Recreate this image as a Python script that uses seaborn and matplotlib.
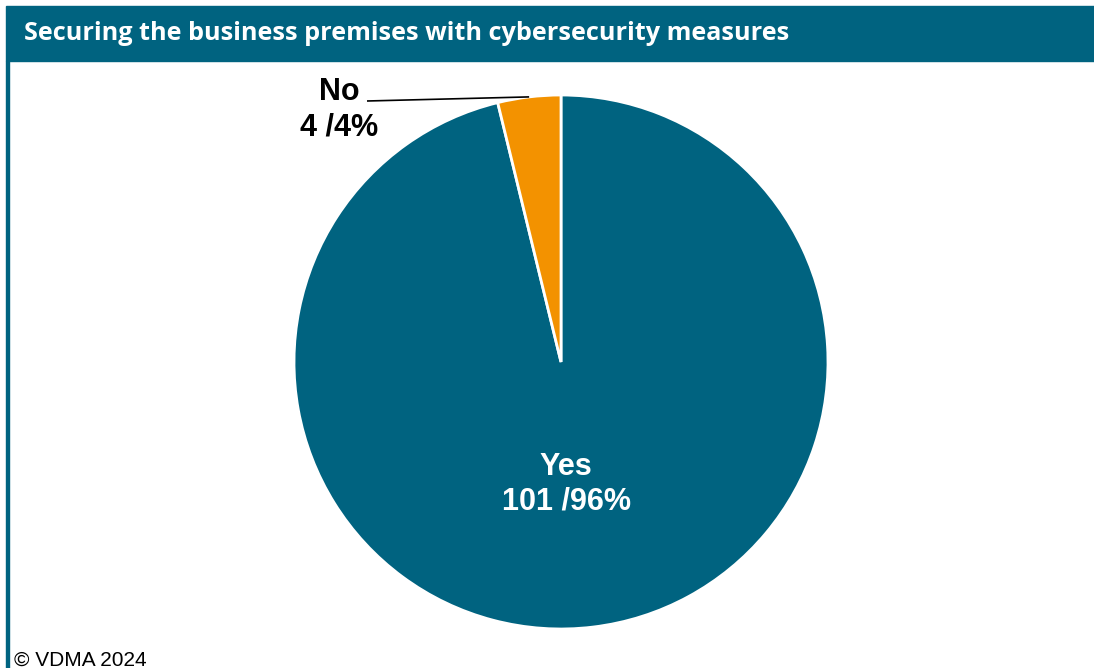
import matplotlib
matplotlib.use("Agg")
import matplotlib.pyplot as plt
from matplotlib.patches import Rectangle
import numpy as np
import seaborn as sns

# Survey answers
categories = ["Yes", "No"]
counts = [101, 4]
percents = [96, 4]
colors = ["#006380", "#F39200"]
title = "Securing the business premises with cybersecurity measures"
footer = "© VDMA 2024"

sns.set_theme(style="white")
plt.rcParams["font.family"] = ["Liberation Sans", "DejaVu Sans"]

W, H = 1094, 668
fig = plt.figure(figsize=(W / 100, H / 100), dpi=100)
fig.patch.set_facecolor("white")

# Header band and left frame line
teal = "#006380"
fig.patches.append(Rectangle((6 / W, 1 - 61 / H), 1 - 6 / W, 55 / H,
                             transform=fig.transFigure, color=teal, zorder=0))
fig.patches.append(Rectangle((6 / W, 0), 3 / W, 1 - 61 / H,
                             transform=fig.transFigure, color=teal, zorder=0))
fig.text(24 / W, 1 - 34 / H, title, color="white", fontsize=18.2,
         fontweight="bold", family=["Open Sans", "DejaVu Sans"],
         ha="left", va="center")

# Pie: centre at (561, 362) px, radius 267 px
R = 267
half = 300
ax = fig.add_axes([(561 - half) / W, (H - 362 - half) / H, 2 * half / W, 2 * half / H])

wedges, _ = ax.pie(counts, colors=colors, startangle=90, counterclock=False,
                   radius=1.0, wedgeprops=dict(edgecolor="white", linewidth=2))
ax.set_aspect("auto")
ax.set_xlim(-half / R, half / R)
ax.set_ylim(-half / R, half / R)
ax.axis("off")

labels = [f"{c}\n{n} /{p}%" for c, n, p in zip(categories, counts, percents)]

# "Yes" label inside the big wedge
ax.text(0.02, -0.458, labels[0], color="white", fontsize=22, fontweight="bold",
        ha="center", va="center", linespacing=1.2)

# "No" label outside with a leader line to the wedge edge
w = wedges[1]
mid = np.deg2rad((w.theta1 + w.theta2) / 2)
ex, ey = np.cos(mid), np.sin(mid)
lx, ly = (367 - 561) / R, (362 - 101) / R
ax.plot([lx, ex], [ly, ey], color="black", lw=1.2, solid_capstyle="butt")
ax.text((339 - 561) / R, (362 - 110) / R, labels[1], color="black", fontsize=22,
        fontweight="bold", ha="center", va="center", linespacing=1.25)

fig.text(14 / W, 1 - 660 / H, footer, fontsize=15, color="black",
         ha="left", va="center")

fig.savefig("out.png", dpi=100, facecolor="white")
